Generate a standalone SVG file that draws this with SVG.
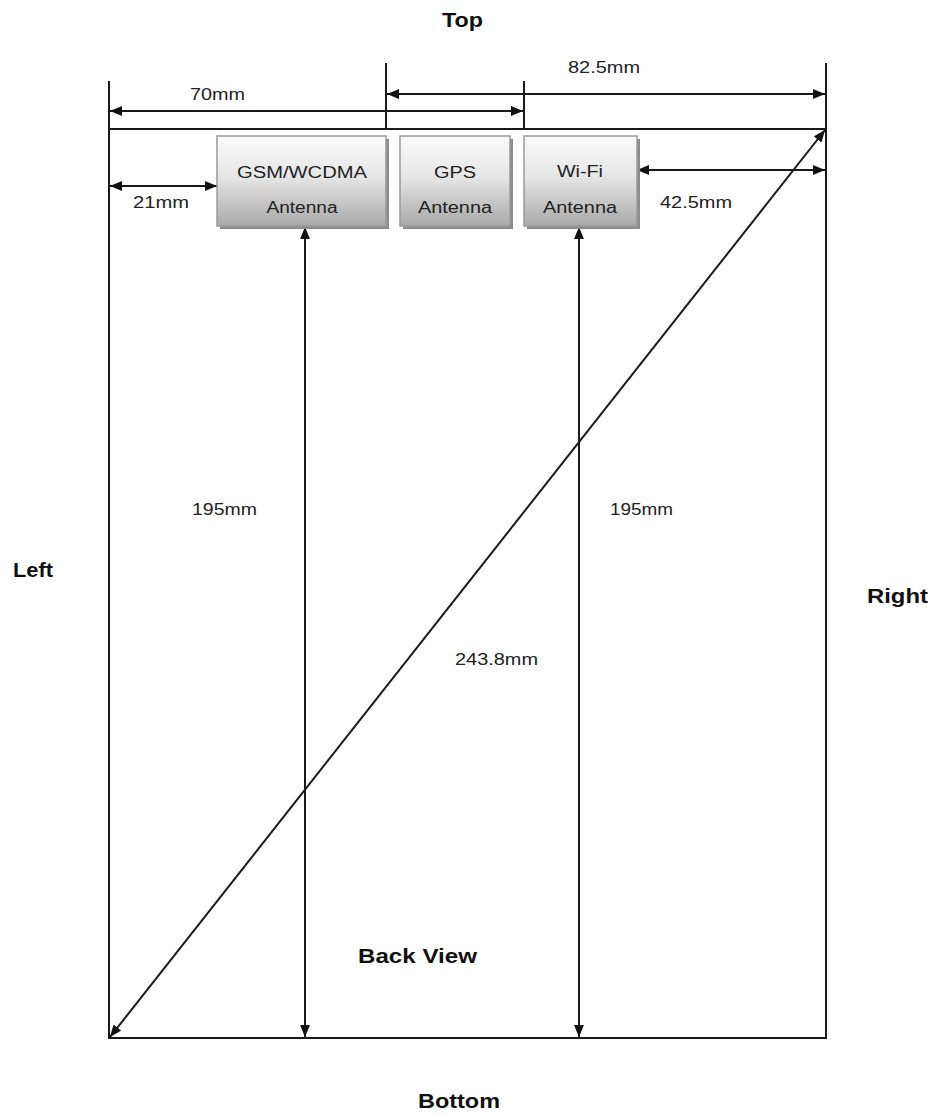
<svg xmlns="http://www.w3.org/2000/svg" width="933" height="1115" viewBox="0 0 933 1115">
<style>
.dir{font-family:"Liberation Sans",Arial,sans-serif;font-weight:bold;font-size:21px;fill:#111}
.lbl{font-family:"Liberation Sans",Arial,sans-serif;font-size:16px;fill:#222}
.box{fill:url(#g);stroke:#9a9a9a;stroke-width:1.5}
.sh{fill:#8c8c8c}
.ln{stroke:#1a1a1a;stroke-width:2;fill:none}
.ar{stroke:#1a1a1a;stroke-width:2;fill:none;marker-start:url(#a);marker-end:url(#a)}
</style>
<defs>
<linearGradient id="g" x1="0" y1="0" x2="0" y2="1">
<stop offset="0" stop-color="#fbfbfb"/>
<stop offset="0.45" stop-color="#e6e6e6"/>
<stop offset="1" stop-color="#a9a9a9"/>
</linearGradient>
<marker id="a" viewBox="0 0 12 10" refX="12" refY="5" markerWidth="12" markerHeight="10" markerUnits="userSpaceOnUse" orient="auto-start-reverse">
<path d="M0,0 L12,5 L0,10 z" fill="#111"/>
</marker>
</defs>
<g id="frame">
<rect x="109" y="129" width="717" height="909" class="ln"/>
<line x1="109" y1="81" x2="109" y2="129" class="ln"/>
<line x1="386" y1="63" x2="386" y2="129" class="ln"/>
<line x1="524" y1="81" x2="524" y2="129" class="ln"/>
<line x1="826" y1="63" x2="826" y2="129" class="ln"/>
</g>
<g id="connectors">
<line x1="110" y1="111" x2="523" y2="111" class="ar"/>
<line x1="387" y1="94" x2="825" y2="94" class="ar"/>
<line x1="110" y1="186" x2="217" y2="186" class="ar"/>
<line x1="637" y1="170" x2="825" y2="170" class="ar"/>
<line x1="305" y1="227" x2="305" y2="1037" class="ar"/>
<line x1="579" y1="227" x2="579" y2="1037" class="ar"/>
<line x1="825" y1="130" x2="110" y2="1037" class="ar"/>
</g>
<g id="gsm">
<rect x="220" y="139" width="169" height="90" class="sh"/>
<rect x="217" y="136" width="169" height="90" class="box"/>
<text x="302" y="178" class="lbl" text-anchor="middle" textLength="130" lengthAdjust="spacingAndGlyphs">GSM/WCDMA</text>
<text x="302" y="213" class="lbl" text-anchor="middle" textLength="71" lengthAdjust="spacingAndGlyphs">Antenna</text>
</g>
<g id="gps">
<rect x="403" y="139" width="110" height="90" class="sh"/>
<rect x="400" y="136" width="110" height="90" class="box"/>
<text x="455" y="178" class="lbl" text-anchor="middle" textLength="42" lengthAdjust="spacingAndGlyphs">GPS</text>
<text x="455" y="213" class="lbl" text-anchor="middle" textLength="74" lengthAdjust="spacingAndGlyphs">Antenna</text>
</g>
<g id="wifi">
<rect x="527" y="139" width="113" height="90" class="sh"/>
<rect x="524" y="136" width="113" height="90" class="box"/>
<text x="580" y="177" class="lbl" text-anchor="middle" textLength="46" lengthAdjust="spacingAndGlyphs">Wi-Fi</text>
<text x="580" y="213" class="lbl" text-anchor="middle" textLength="74" lengthAdjust="spacingAndGlyphs">Antenna</text>
</g>
<g id="labels">
<text x="190" y="100" class="lbl" textLength="55" lengthAdjust="spacingAndGlyphs">70mm</text>
<text x="568" y="73" class="lbl" textLength="72" lengthAdjust="spacingAndGlyphs">82.5mm</text>
<text x="133" y="208" class="lbl" textLength="56" lengthAdjust="spacingAndGlyphs">21mm</text>
<text x="660" y="208" class="lbl" textLength="72" lengthAdjust="spacingAndGlyphs">42.5mm</text>
<text x="192" y="515" class="lbl" textLength="65" lengthAdjust="spacingAndGlyphs">195mm</text>
<text x="610" y="515" class="lbl" textLength="63" lengthAdjust="spacingAndGlyphs">195mm</text>
<text x="455" y="665" class="lbl" textLength="83" lengthAdjust="spacingAndGlyphs">243.8mm</text>
<text x="442" y="27" class="dir" textLength="41" lengthAdjust="spacingAndGlyphs">Top</text>
<text x="13" y="577" class="dir" textLength="40" lengthAdjust="spacingAndGlyphs">Left</text>
<text x="867" y="603" class="dir" textLength="61" lengthAdjust="spacingAndGlyphs">Right</text>
<text x="418" y="1108" class="dir" textLength="82" lengthAdjust="spacingAndGlyphs">Bottom</text>
<text x="358" y="963" class="dir" textLength="119" lengthAdjust="spacingAndGlyphs">Back View</text>
</g>
</svg>
